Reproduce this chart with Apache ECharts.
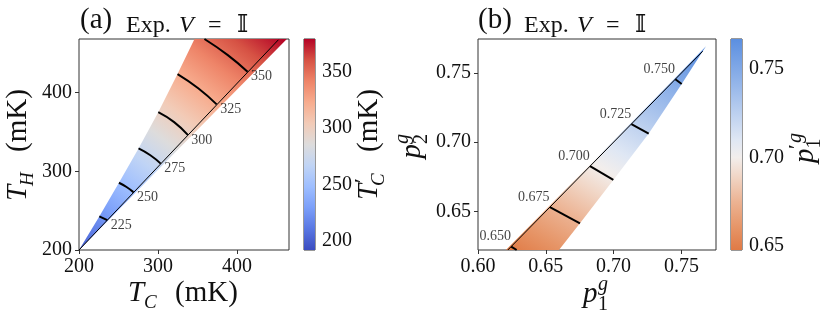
<!DOCTYPE html>
<html>
<head>
<meta charset="utf-8">
<script src="https://cdn.jsdelivr.net/npm/echarts@6/dist/echarts.min.js"></script>
<style>
  html, body { margin: 0; padding: 0; background: #fff; }
  #main { width: 831px; height: 320px; }
</style>
</head>
<body>
<div id="main"></div>
<script>
const SERIF = '"Liberation Serif", "DejaVu Serif", serif';
const INK = '#111';

// ------------------ panel (a): T_H vs T_C, colour = T'_C ------------------
const tcRange = [200, 466];
const thRange = [200, 468];
const tcTicks = [200, 300, 400];
const thTicks = [200, 300, 400];
const cbRangeA = [192, 379];
const cbTicksA = [200, 250, 300, 350];
const levelsA = [225, 250, 275, 300, 325, 350];
// each contour runs from the upper edge of the region to the black line
const contoursA = [
    [[225.7, 242.7], [235.8, 237.9]],
    [[250.6, 285.4], [260.2, 280.0], [268.9, 273.5]],
    [[275.4, 329.0], [290.4, 320.3], [303.5, 309.7]],
    [[300.4, 375.1], [320.5, 362.4], [337.8, 346.2]],
    [[324.8, 423.5], [351.0, 405.5], [374.4, 385.0]],
    [[358.9, 468.0], [388.5, 447.5], [413.5, 426.4]]
];
const lineA = [[200, 200], [452.6, 467]];
const regionA = [[200, 200], [225.7, 242.7], [250.6, 285.4], [275.4, 329.0], [300.4, 375.1],
    [324.8, 423.5], [346.3, 468], [463.3, 468]];
// coolwarm
const cmapA = ['#3b4cc0', '#5977e3', '#7b9ff9', '#9ebeff', '#c0d4f5', '#dddcdc',
    '#f2cbb7', '#f7ac8e', '#ee8468', '#d65244', '#b40426'];

// ------------------ panel (b): p2 vs p1, colour = p1' ------------------
const p1Range = [0.60, 0.7755];
const p2Range = [0.622, 0.7746];
const p1Ticks = [0.60, 0.65, 0.70, 0.75];
const p2Ticks = [0.65, 0.70, 0.75];
const cbRangeB = [0.6476, 0.767];
const cbTicksB = [0.65, 0.70, 0.75];
const levelsB = [0.650, 0.675, 0.700, 0.725, 0.750];
const contoursB = [
    [[0.6285, 0.6220], [0.6245, 0.6245]],
    [[0.6752, 0.6413], [0.6530, 0.6530]],
    [[0.6998, 0.6727], [0.6826, 0.6826]],
    [[0.7259, 0.7062], [0.7131, 0.7131]],
    [[0.7502, 0.7420], [0.7455, 0.7455]]
];
const lineB = [[0.622, 0.622], [0.7657, 0.7657]];
const regionB = [[0.6206, 0.622], [0.745, 0.746], [0.7681, 0.7693], [0.7502, 0.7420],
    [0.7259, 0.7062], [0.6998, 0.6727], [0.6752, 0.6413], [0.6597, 0.622]];
const cmapBVals = [0.6476, 0.66, 0.675, 0.69, 0.70, 0.71, 0.725, 0.74, 0.767];
const cmapBColors = ['#e07a45', '#e69466', '#ecb393', '#f1d8c9', '#f2eeec',
    '#dfe7f4', '#bcd0ef', '#98b8ea', '#5b8fe0'];

const cmapAVals = cmapA.map((c, i) => cbRangeA[0] + (cbRangeA[1] - cbRangeA[0]) * i / 10);

function stops(vals, colors, range) {
    return vals.map((v, i) => ({offset: (v - range[0]) / (range[1] - range[0]), color: colors[i]}));
}

// filled region, linear gradient running across the contours
function regionSeries(idx, region, contours, levels, range, vals, colors) {
    return {
        type: 'custom', xAxisIndex: idx, yAxisIndex: idx, data: [0], silent: true, z: 1,
        renderItem: function (params, api) {
            const pts = region.map(p => api.coord(p));
            const mid = contours[Math.floor(contours.length / 2)];
            const a = api.coord(mid[0]), b = api.coord(mid[mid.length - 1]);
            const len = Math.hypot(b[0] - a[0], b[1] - a[1]);
            let nx = -(b[1] - a[1]) / len, ny = (b[0] - a[0]) / len;
            const c0 = contours[0], cN = contours[contours.length - 1];
            const q0 = api.coord(c0[c0.length - 1]), q1 = api.coord(cN[cN.length - 1]);
            let proj = (q1[0] - q0[0]) * nx + (q1[1] - q0[1]) * ny;
            if (proj < 0) { nx = -nx; ny = -ny; proj = -proj; }
            const s = proj / (levels[levels.length - 1] - levels[0]);
            const t0 = (range[0] - levels[0]) * s, t1 = (range[1] - levels[0]) * s;
            return {
                type: 'polygon', shape: {points: pts},
                style: {
                    fill: {
                        type: 'linear', global: true,
                        x: q0[0] + nx * t0, y: q0[1] + ny * t0,
                        x2: q0[0] + nx * t1, y2: q0[1] + ny * t1,
                        colorStops: stops(vals, colors, range)
                    }
                }
            };
        }
    };
}

function colorbarSeries(idx, range, vals, colors) {
    return {
        type: 'custom', xAxisIndex: idx, yAxisIndex: idx, data: [0], silent: true,
        renderItem: function (params, api) {
            const lo = api.coord([0, range[0]]), hi = api.coord([1, range[1]]);
            return {
                type: 'rect',
                shape: {x: lo[0], y: hi[1], width: hi[0] - lo[0], height: lo[1] - hi[1]},
                style: {
                    fill: {
                        type: 'linear', global: true, x: 0, y: lo[1], x2: 0, y2: hi[1],
                        colorStops: stops(vals, colors, range)
                    }
                }
            };
        }
    };
}

function lineSeries(idx, pts, width) {
    return {
        type: 'line', xAxisIndex: idx, yAxisIndex: idx, data: pts, symbol: 'none',
        smooth: pts.length > 2, silent: true, z: 3,
        lineStyle: {color: '#000', width: width}
    };
}

function labelSeries(idx, contours, levels, offset, fmt) {
    return {
        type: 'scatter', xAxisIndex: idx, yAxisIndex: idx, symbolSize: 1, silent: true, z: 4,
        itemStyle: {color: 'rgba(0,0,0,0)'},
        data: contours.map((c, i) => [c[c.length - 1][0], c[c.length - 1][1], levels[i]]),
        label: {
            show: true, position: 'inside', offset: offset,
            formatter: p => fmt(p.value[2]),
            fontFamily: SERIF, fontSize: 14, color: INK
        }
    };
}

function valueAxis(idx, range, ticks, fmt, extra) {
    return Object.assign({
        type: 'value', gridIndex: idx, min: range[0], max: range[1],
        axisLine: {show: false},
        splitLine: {show: false},
        axisTick: {show: true, customValues: ticks, length: 4, lineStyle: {color: '#333'}},
        axisLabel: {
            customValues: ticks, formatter: fmt, margin: 7,
            fontFamily: SERIF, fontSize: 20, color: INK
        }
    }, extra || {});
}

const hidden = idx => ({type: 'value', gridIndex: idx, min: 0, max: 1, show: false});

// math-ish text: parts placed by baseline
function tex(x, y, rot, parts) {
    return {
        type: 'group', x: x, y: y, rotation: rot, silent: true,
        children: parts.map(p => ({
            type: 'text', x: p[1], y: p[2] - 0.33 * p[3],
            style: {
                text: p[0], fontFamily: SERIF, fontSize: p[3],
                fontStyle: p[4] ? 'italic' : 'normal',
                fill: INK, align: 'left', verticalAlign: 'middle'
            }
        }))
    };
}

function title(x, label) {
    return tex(x, 0, 0, [
        [label, 0, 29.5, 29],
        ['Exp.', 46, 33.3, 24],
        ['V', 99, 33.3, 24, true],
        ['=', 128, 33.3, 24],
        ['\u{1D540}', 157, 33.3, 24]
    ]);
}

const boxGrid = {show: true, borderColor: '#333', borderWidth: 1, backgroundColor: '#fff'};
const R = Math.PI / 2;

const option = {
    animation: false,
    grid: [
        Object.assign({left: 79, top: 39, width: 210, height: 211}, boxGrid),
        Object.assign({left: 304, top: 39, width: 11, height: 211}, boxGrid),
        Object.assign({left: 478, top: 39, width: 238, height: 211}, boxGrid),
        Object.assign({left: 731, top: 39, width: 11, height: 211}, boxGrid)
    ],
    xAxis: [
        valueAxis(0, tcRange, tcTicks, v => String(v)),
        hidden(1),
        valueAxis(2, p1Range, p1Ticks, v => v.toFixed(2)),
        hidden(3)
    ],
    yAxis: [
        valueAxis(0, thRange, thTicks, v => String(v)),
        valueAxis(1, cbRangeA, cbTicksA, v => String(v), {position: 'right'}),
        valueAxis(2, p2Range, p2Ticks, v => v.toFixed(2), {}),
        valueAxis(3, cbRangeB, cbTicksB, v => v.toFixed(2), {position: 'right'})
    ],
    series: [].concat(
        regionSeries(0, regionA, contoursA, levelsA, cbRangeA, cmapAVals, cmapA),
        lineSeries(0, lineA, 1),
        contoursA.map(c => lineSeries(0, c, 2)),
        labelSeries(0, contoursA, levelsA, [14, 5], v => String(v)),
        colorbarSeries(1, cbRangeA, cmapAVals, cmapA),
        regionSeries(2, regionB, contoursB, levelsB, cbRangeB, cmapBVals, cmapBColors),
        lineSeries(2, lineB, 1),
        contoursB.map(c => lineSeries(2, c, 2)),
        labelSeries(2, contoursB, levelsB, [-16, -10], v => v.toFixed(3)),
        colorbarSeries(3, cbRangeB, cmapBVals, cmapBColors)
    ),
    graphic: [
        title(80, '(a)'),
        title(478, '(b)'),
        // T_C (mK)
        tex(128, 303, 0, [['T', 0, 0, 29, true], ['C', 16, 6, 19, true], ['(mK)', 47, 0, 29]]),
        // T_H (mK)
        tex(28, 201, R, [['T', 0, 0, 29, true], ['H', 15, 6, 19, true], ['(mK)', 49, 0, 29]]),
        // T'_C (mK)
        tex(379, 200, R, [['T', 0, 0, 29, true], ['\u2032', 17, -9, 22], ['C', 14, 6, 19, true], ['(mK)', 48, 0, 29]]),
        // p_1^g
        tex(583, 304, 0, [['p', 0, 0, 29, true], ['g', 15, -13, 20, true], ['1', 15, 7, 20]]),
        // p_2^g
        tex(422, 158.5, R, [['p', 0, 0, 29, true], ['g', 14.5, -13, 20, true], ['2', 14.5, 6.5, 20]]),
        // p'_1^g
        tex(815, 163, R, [['p', 0, 0, 29, true], ['\u2032', 14, -11, 22], ['g', 20, -13, 20, true], ['1', 14.5, 6.5, 20]])
    ]
};

const chart = echarts.init(document.getElementById('main'));
chart.setOption(option);
</script>
</body>
</html>
